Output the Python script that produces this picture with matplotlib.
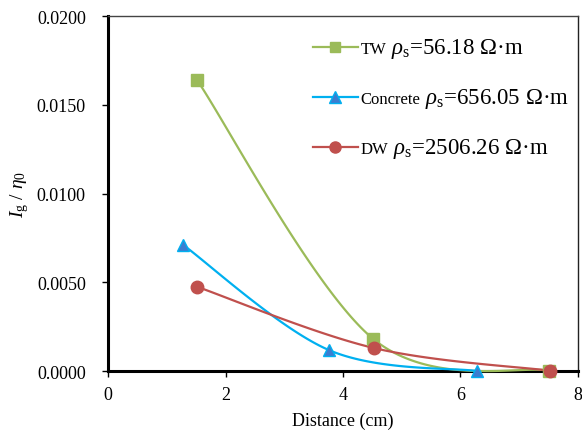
import matplotlib
matplotlib.use("Agg")
import matplotlib.pyplot as plt
import numpy as np

plt.rcParams["font.family"] = ["Liberation Serif", "DejaVu Serif"]
plt.rcParams["mathtext.fontset"] = "custom"
plt.rcParams["mathtext.rm"] = "Liberation Serif"
plt.rcParams["mathtext.it"] = "Liberation Serif:italic"

# values
tw_x = [1.52, 4.51, 7.50]
tw_y = [0.01637, 0.00182, 0.00002]
concrete_x = [1.28, 3.76, 6.28]
concrete_y = [0.00710, 0.00118, 0.00000]
dw_x = [1.52, 4.52, 7.52]
dw_y = [0.00474, 0.00130, 0.00002]

series_names = ["TW", "Concrete", "DW"]
series_rho = ["56.18", "656.05", "2506.26"]

x_ticks = [0, 2, 4, 6, 8]
y_ticks = [0.0, 0.005, 0.010, 0.015, 0.020]

XMAX, YMAX = 8, 0.02


def smooth(xs, ys, n=60):
    # Excel-like smoothed line (Catmull-Rom through points), done in pixel-ish space
    sx, sy = 470 / XMAX, 355 / YMAX
    p = np.column_stack([np.array(xs) * sx, np.array(ys) * sy])
    p = np.vstack([p[0], p, p[-1]])
    out = []
    t = np.linspace(0, 1, n)[:, None]
    for i in range(1, len(p) - 2):
        p0, p1, p2, p3 = p[i - 1], p[i], p[i + 1], p[i + 2]
        c1 = p1 + (p2 - p0) / 6
        c2 = p2 - (p3 - p1) / 6
        b = ((1 - t) ** 3) * p1 + 3 * ((1 - t) ** 2) * t * c1 + 3 * (1 - t) * t ** 2 * c2 + t ** 3 * p2
        out.append(b)
    out = np.vstack(out)
    return out[:, 0] / sx, out[:, 1] / sy


fig = plt.figure(figsize=(5.82, 4.35), dpi=100)
ax = fig.add_axes([0.1856, 0.1448, 0.8075, 0.8161])

styles = [
    dict(color="#9BBB59", marker="s", mfc="#9BBB59", mec="#9BBB59", ms=8),
    dict(color="#00B0F0", marker="^", mfc="#3C7DD0", mec="#00B0F0", ms=9),
    dict(color="#C0504D", marker="o", mfc="#C0504D", mec="#C0504D", ms=9),
]
handles = []
for (xs, ys), st in zip([(tw_x, tw_y), (concrete_x, concrete_y), (dw_x, dw_y)], styles):
    cx, cy = smooth(xs, ys)
    ax.plot(cx, cy, color=st["color"], lw=1.6, clip_on=False, zorder=3)
    ax.plot(xs, ys, ls="none", marker=st["marker"], mfc=st["mfc"], mec=st["mec"],
            ms=st["ms"], mew=1, clip_on=False, zorder=4)
    h, = ax.plot([], [], color=st["color"], lw=1.6, marker=st["marker"],
                 mfc=st["mfc"], mec=st["mec"], ms=st["ms"] - 1)
    handles.append(h)

ax.set_xlim(0, XMAX)
ax.set_ylim(0, YMAX)
ax.set_xticks(x_ticks)
ax.set_yticks(y_ticks)
ax.set_yticklabels([f"{v:.4f}" for v in y_ticks])
ax.tick_params(direction="out", length=4, width=1, labelsize=13, colors="black")
ax.tick_params(axis="y", pad=12)
ax.tick_params(axis="x", pad=7)
ax.spines["left"].set_linewidth(2.2)
ax.spines["bottom"].set_linewidth(2.2)
ax.spines["top"].set_linewidth(1.0)
ax.spines["right"].set_linewidth(1.0)
ax.spines["top"].set_color("#444444")
ax.spines["right"].set_color("#222222")

ax.set_xlabel("Distance (cm)", fontsize=13, labelpad=6)
ax.set_ylabel(r"$I_{\mathrm{g}}$ / $\eta_0$", fontsize=14, labelpad=4)

leg = ax.legend(handles, series_names, loc="upper left", bbox_to_anchor=(0.436, 0.93),
                frameon=False, fontsize=12, handlelength=2.7, handletextpad=0.15,
                labelspacing=2.05, borderpad=0, borderaxespad=0)

# the resistivity part is bigger than the name, so add it after the legend text,
# sitting on the same baseline (text boxes use the descent of "lp")
fig.canvas.draw()
renderer = fig.canvas.get_renderer()
inv = fig.transFigure.inverted()
for txt, rho in zip(leg.get_texts(), series_rho):
    bb = txt.get_window_extent(renderer)
    _, _, descent = renderer.get_text_width_height_descent(
        "lp", txt.get_fontproperties(), ismath=False)
    x0, y0 = inv.transform((bb.x1, bb.y0 + descent))
    fig.text(x0, y0, r" $\rho_{\mathrm{s}}$=" + rho + " Ω·m", ha="left", va="baseline",
             fontsize=16.5)

fig.savefig("out.png", dpi=100)
